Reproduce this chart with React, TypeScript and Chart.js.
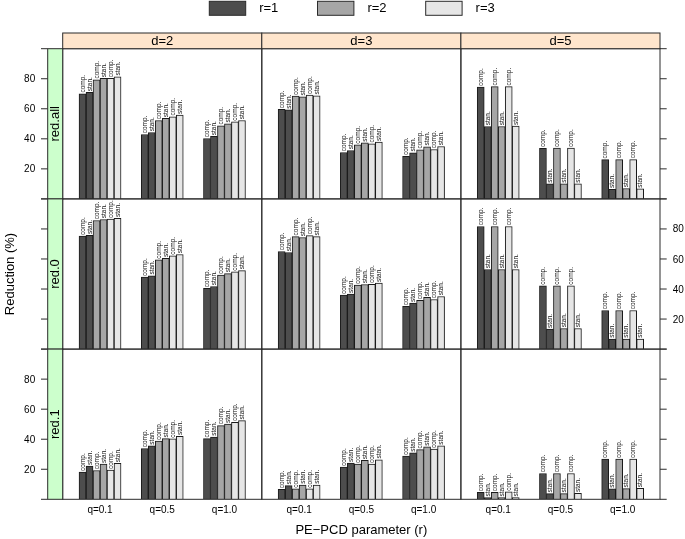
import React, { useEffect, useRef } from 'react';
import { Chart, registerables } from 'chart.js';

Chart.register(...registerables);

// ---------- data ----------
const qLabels = ['q=0.1', 'q=0.5', 'q=1.0'];
const dLabels = ['d=2', 'd=3', 'd=5'];
const redLabels = ['red.all', 'red.0', 'red.1'];
const rLabels = ['r=1', 'r=2', 'r=3'];
const barTypes = ['comp.', 'stan.'];
const yTicks = [20, 40, 60, 80];

// each panel: one row per q level; columns = r=1 comp, r=1 stan, r=2 comp, r=2 stan, r=3 comp, r=3 stan
const redAll_d2 = [
  [70.0, 70.9, 79.3, 80.2, 80.2, 81.3],
  [42.9, 44.2, 52.2, 53.6, 54.7, 55.8],
  [40.2, 41.6, 48.7, 50.0, 51.3, 52.2],
];
const redAll_d3 = [
  [59.6, 59.3, 68.4, 68.0, 69.1, 68.7],
  [30.9, 32.2, 36.0, 37.3, 36.7, 37.8],
  [28.4, 30.7, 32.7, 34.7, 32.9, 34.9],
];
const redAll_d5 = [
  [74.4, 48.2, 74.7, 48.2, 74.7, 48.4],
  [33.7, 10.0, 33.8, 10.0, 33.8, 10.0],
  [26.1, 6.4, 26.2, 6.9, 26.2, 6.7],
];
const red0_d2 = [
  [75.2, 75.8, 85.6, 86.3, 86.5, 87.1],
  [47.9, 48.8, 59.4, 60.5, 62.1, 63.0],
  [40.4, 41.7, 49.2, 50.3, 51.4, 52.3],
];
const red0_d3 = [
  [65.0, 64.3, 74.9, 74.3, 75.6, 74.9],
  [35.9, 36.6, 42.6, 43.0, 43.2, 43.9],
  [28.4, 30.6, 32.4, 34.4, 33.0, 35.0],
];
const red0_d5 = [
  [81.6, 53.0, 81.6, 53.0, 81.6, 53.0],
  [42.1, 13.3, 42.1, 13.7, 42.1, 13.7],
  [25.7, 6.7, 25.7, 6.7, 25.7, 6.7],
];
const red1_d2 = [
  [18.1, 22.1, 19.2, 23.4, 19.4, 23.9],
  [33.8, 35.6, 38.7, 40.4, 40.2, 42.0],
  [40.4, 41.5, 49.1, 50.0, 51.3, 52.4],
];
const red1_d3 = [
  [6.6, 9.1, 6.9, 9.5, 6.9, 9.5],
  [21.4, 24.1, 23.4, 25.9, 23.4, 26.3],
  [28.7, 30.9, 33.1, 34.9, 33.4, 35.6],
];
const red1_d5 = [
  [4.6, 1.1, 4.6, 1.1, 4.9, 1.1],
  [17.2, 3.8, 17.2, 3.8, 17.2, 4.0],
  [26.7, 6.9, 26.7, 7.1, 26.7, 7.3],
];

const panelValues = [
  [redAll_d2, redAll_d3, redAll_d5],
  [red0_d2, red0_d3, red0_d5],
  [red1_d2, red1_d3, red1_d5],
];

// ---------- style / layout ----------
const W = 685;
const H = 539;
const FONT = '"Liberation Sans", Arial, Helvetica, sans-serif';
const rFills = ['#4d4d4d', '#a6a6a6', '#e6e6e6'];
const LINE = '#2b2b2b';
const GRID_LEFT = 62.7;
const COL_W = 199.1;
const GRID_TOP = 48.7;
const ROW_H = 150.2;
const STRIP_W = 15.0;
const STRIP_H = 15.7;
const TICK = 6.7;
const BAR_W = 7;

function line(ctx: CanvasRenderingContext2D, x1: number, y1: number, x2: number, y2: number) {
  ctx.beginPath();
  ctx.moveTo(x1, y1);
  ctx.lineTo(x2, y2);
  ctx.stroke();
}

function makePlugin(row: number, col: number) {
  return {
    id: 'lattice' + row + col,
    afterDatasetsDraw(chart: any) {
      const ctx: CanvasRenderingContext2D = chart.ctx;
      ctx.save();
      ctx.fillStyle = '#111';
      ctx.font = `6.5px ${FONT}`;
      ctx.textAlign = 'left';
      ctx.textBaseline = 'middle';
      chart.data.datasets.forEach((_ds: any, i: number) => {
        const meta = chart.getDatasetMeta(i);
        meta.data.forEach((el: any) => {
          const { x, y } = el.getProps(['x', 'y'], true);
          ctx.save();
          ctx.translate(x, y - 1.2);
          ctx.rotate(-Math.PI / 2);
          ctx.fillText(barTypes[i % 2], 0, 0.3);
          ctx.restore();
        });
      });
      ctx.restore();
    },
    afterDraw(chart: any) {
      const ctx: CanvasRenderingContext2D = chart.ctx;
      const a = chart.chartArea;
      const ys = chart.scales.y;
      const xs = chart.scales.x;
      ctx.save();
      ctx.strokeStyle = LINE;
      ctx.lineWidth = 1;
      ctx.fillStyle = '#000';

      // panel border
      ctx.strokeRect(a.left, a.top, a.right - a.left, a.bottom - a.top);

      // top strip
      if (row === 0) {
        ctx.fillStyle = '#ffe5cc';
        ctx.fillRect(a.left, a.top - STRIP_H, a.right - a.left, STRIP_H);
        ctx.strokeRect(a.left, a.top - STRIP_H, a.right - a.left, STRIP_H);
        ctx.fillStyle = '#000';
        ctx.font = `13px ${FONT}`;
        ctx.textAlign = 'center';
        ctx.textBaseline = 'middle';
        ctx.fillText(dLabels[col], (a.left + a.right) / 2, a.top - STRIP_H / 2 + 0.5);
      }

      // left strip + left axis
      if (col === 0) {
        const sl = a.left - STRIP_W;
        ctx.fillStyle = '#ccffcc';
        ctx.fillRect(sl, a.top, STRIP_W, a.bottom - a.top);
        ctx.strokeRect(sl, a.top, STRIP_W, a.bottom - a.top);
        ctx.fillStyle = '#000';
        ctx.save();
        ctx.translate(sl + STRIP_W / 2 + 0.5, (a.top + a.bottom) / 2);
        ctx.rotate(-Math.PI / 2);
        ctx.font = `13px ${FONT}`;
        ctx.textAlign = 'center';
        ctx.textBaseline = 'middle';
        ctx.fillText(redLabels[row], 0, 0);
        ctx.restore();
        line(ctx, sl - TICK, a.top, sl, a.top);
        line(ctx, sl - TICK, a.bottom, sl, a.bottom);
        ctx.font = `10px ${FONT}`;
        ctx.textAlign = 'right';
        ctx.textBaseline = 'middle';
        yTicks.forEach((v) => {
          const py = ys.getPixelForValue(v);
          line(ctx, sl - TICK, py, sl, py);
          if (row !== 1) ctx.fillText(String(v), sl - TICK - 5.8, py + 0.8);
        });
      }

      // right axis
      if (col === 2) {
        line(ctx, a.right, a.top, a.right + TICK, a.top);
        line(ctx, a.right, a.bottom, a.right + TICK, a.bottom);
        ctx.font = `10px ${FONT}`;
        ctx.textAlign = 'left';
        ctx.textBaseline = 'middle';
        yTicks.forEach((v) => {
          const py = ys.getPixelForValue(v);
          line(ctx, a.right, py, a.right + TICK, py);
          if (row === 1) ctx.fillText(String(v), a.right + TICK + 6, py + 0.8);
        });
      }

      // bottom category labels
      if (row === 2) {
        ctx.font = `10px ${FONT}`;
        ctx.textAlign = 'center';
        ctx.textBaseline = 'middle';
        qLabels.forEach((q, i) => {
          ctx.fillText(q, xs.getPixelForValue(i + 1), a.bottom + 10.5);
        });
      }

      // global decorations (drawn once)
      if (row === 0 && col === 0) {
        const boxW = 36.4;
        const boxH = 14;
        const boxTop = 1.3;
        const firstBox = 209.3;
        const step = 108.2;
        ctx.font = `13px ${FONT}`;
        ctx.textAlign = 'left';
        ctx.textBaseline = 'middle';
        rLabels.forEach((lab, i) => {
          const bx = firstBox + i * step;
          ctx.fillStyle = rFills[i];
          ctx.fillRect(bx, boxTop, boxW, boxH);
          ctx.strokeRect(bx, boxTop, boxW, boxH);
          ctx.fillStyle = '#000';
          ctx.fillText(lab, bx + boxW + 13.5, boxTop + boxH / 2 + 0.5);
        });
        ctx.font = `13px ${FONT}`;
        ctx.textAlign = 'center';
        ctx.textBaseline = 'middle';
        ctx.fillText('PE\u2212PCD parameter (r)', GRID_LEFT + (3 * COL_W) / 2, 530);
        ctx.save();
        ctx.translate(10.5, GRID_TOP + (3 * ROW_H) / 2);
        ctx.rotate(-Math.PI / 2);
        ctx.fillText('Reduction (%)', 0, 0);
        ctx.restore();
      }
      ctx.restore();
    },
  };
}

function buildConfig(row: number, col: number): any {
  const vals = panelValues[row][col];
  const left = GRID_LEFT + col * COL_W;
  const top = GRID_TOP + row * ROW_H;
  const right = left + COL_W;
  const bottom = top + ROW_H;
  const datasets = [0, 1, 2, 3, 4, 5].map((k) => ({
    label: `${rLabels[Math.floor(k / 2)]} ${barTypes[k % 2]}`,
    data: qLabels.map((_q, qi) => ({ x: qi + 1, y: vals[qi][k] })),
    backgroundColor: rFills[Math.floor(k / 2)],
    borderColor: '#1a1a1a',
    borderWidth: 1,
    barThickness: BAR_W,
    grouped: true,
  }));
  return {
    type: 'bar',
    data: { datasets },
    options: {
      responsive: false,
      animation: false,
      devicePixelRatio: 1,
      layout: { padding: { left, top, right: W - right, bottom: H - bottom } },
      scales: {
        x: {
          type: 'linear',
          display: false,
          offset: false,
          bounds: 'data',
          grid: { offset: false },
          min: 0.4,
          max: 3.6,
        },
        y: {
          type: 'linear',
          display: false,
          offset: false,
          min: 0,
          max: 100,
        },
      },
      plugins: {
        legend: { display: false },
        tooltip: { enabled: false },
      },
    },
    plugins: [makePlugin(row, col)],
  };
}

function Panel({ row, col }: { row: number; col: number }) {
  const ref = useRef<HTMLCanvasElement | null>(null);
  useEffect(() => {
    if (!ref.current) return;
    const chart = new Chart(ref.current, buildConfig(row, col));
    return () => chart.destroy();
  }, [row, col]);
  return (
    <canvas
      ref={ref}
      width={W}
      height={H}
      style={{ position: 'absolute', left: 0, top: 0, width: W, height: H }}
    />
  );
}

export default function App() {
  const cells: Array<[number, number]> = [];
  for (let r = 0; r < 3; r++) for (let c = 0; c < 3; c++) cells.push([r, c]);
  return (
    <div style={{ position: 'absolute', left: 0, top: 0, width: W, height: H, background: '#fff', overflow: 'hidden' }}>
      {cells.map(([r, c]) => (
        <Panel key={`${r}-${c}`} row={r} col={c} />
      ))}
    </div>
  );
}
